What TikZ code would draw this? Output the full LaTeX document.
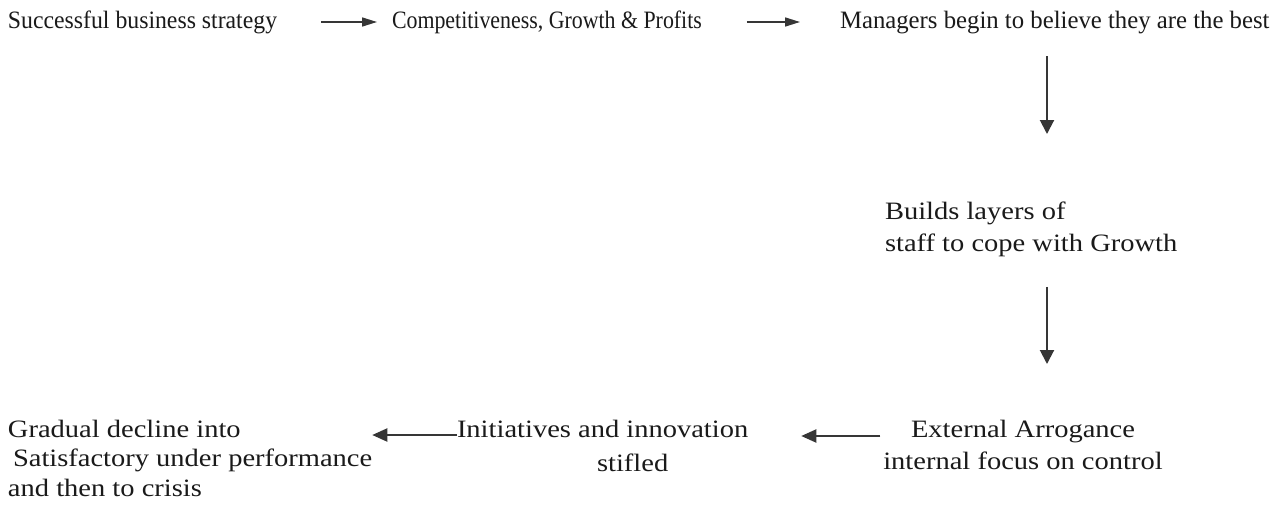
\documentclass[tikz,border=0pt]{standalone}
\usepackage{fontspec}
\setmainfont{Liberation Serif}
\newfontfamily\fone[FakeStretch=0.95]{Liberation Serif}
\newfontfamily\fnarrow[FakeStretch=0.875]{Liberation Serif}
\newfontfamily\fmid[FakeStretch=0.99]{Liberation Serif}
\newfontfamily\fwide[FakeStretch=1.14]{Liberation Serif}
\usetikzlibrary{arrows.meta}
\definecolor{ink}{HTML}{1A1A1A}
\definecolor{arrowgray}{HTML}{363636}
\begin{document}
\begin{tikzpicture}[x=1pt,y=-1pt,
  lbl/.style={inner sep=0pt, outer sep=0pt, text=ink},
  toparrow/.style={draw=arrowgray, line width=1.6pt, -{Triangle[length=15pt,width=9pt]}},
  vertarrow/.style={draw=arrowgray, line width=2pt, -{Triangle[length=14pt,width=14pt]}},
  botarrow/.style={draw=arrowgray, line width=2pt, -{Triangle[length=15pt,width=13pt]}}
]
\useasboundingbox[fill=white] (0,0) rectangle (1286,506);

% top row
\node[lbl, anchor=base west, font=\fone\fontsize{25}{28}\selectfont] (s1) at (8,28) {Successful business strategy};
\node[lbl, anchor=base west, font=\fnarrow\fontsize{25}{28}\selectfont] (s2) at (392,28) {Competitiveness, Growth \& Profits};
\node[lbl, anchor=base west, font=\fmid\fontsize{25}{28}\selectfont] (s3) at (840,28) {Managers begin to believe they are the best};

% right column
\node[lbl, anchor=north west, align=left, font=\fwide\fontsize{25}{32}\selectfont] (b) at (885,202) {Builds layers of\\staff to cope with Growth};
\node[lbl, anchor=north, align=center, font=\fwide\fontsize{25}{32}\selectfont] (e) at (1023,420) {External Arrogance\\internal focus on control};

% bottom row
\node[lbl, anchor=north west, align=left, font=\fwide\fontsize{25}{34}\selectfont] (i) at (457,420) {Initiatives and innovation\\\hspace*{140pt}stifled};
\node[lbl, anchor=north west, align=left, font=\fwide\fontsize{25}{29.5}\selectfont] (g) at (8,420) {Gradual decline into\\\hspace*{5pt}Satisfactory under performance\\and then to crisis};

% helper coordinates for connector levels
\coordinate (r1) at (0,22);
\coordinate (vx) at (1047,0);
\coordinate (r3) at (0,436);
\coordinate (r4) at (0,435);

\draw[toparrow, shorten <=44pt, shorten >=15pt] (s1.east |- r1) -- (s2.west |- r1);
\draw[toparrow, shorten <=45pt, shorten >=40pt] (s2.east |- r1) -- (s3.west |- r1);
\draw[vertarrow, shorten <=23pt, shorten >=68pt] (s3.south -| vx) -- (b.north -| vx);
\draw[vertarrow, shorten <=30pt, shorten >=56pt] (b.south -| vx) -- (e.north -| vx);
\draw[botarrow, shorten <=3pt, shorten >=53pt] (e.west |- r3) -- (i.east |- r3);
\draw[botarrow] (i.west |- r4) -- (g.east |- r4);
\end{tikzpicture}
\end{document}
